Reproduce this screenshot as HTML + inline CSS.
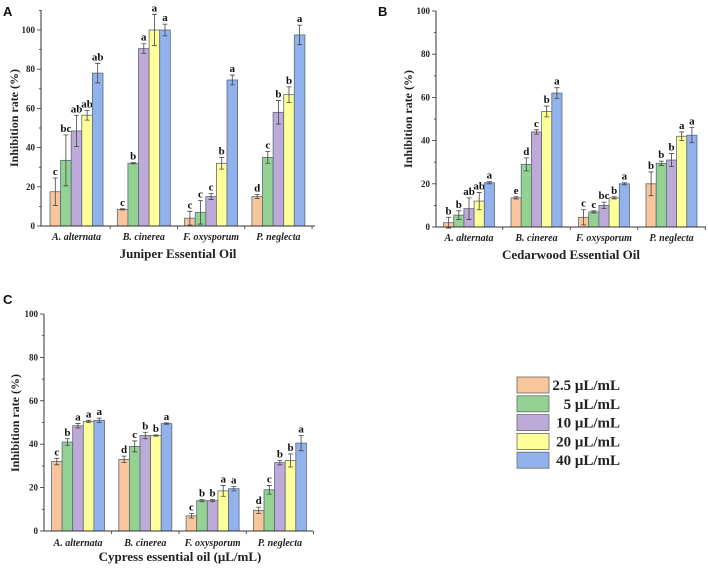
<!DOCTYPE html>
<html><head><meta charset="utf-8">
<style>
html,body{margin:0;padding:0;background:#fff;}
svg{display:block;font-family:"Liberation Serif",serif;}
</style></head>
<body>
<svg id="chart" width="708" height="568" viewBox="0 0 708 568"></svg>
<script>
const categories = ["A. alternata","B. cinerea","F. oxysporum","P. neglecta"];
const seriesNames = ["2.5 μL/mL","5 μL/mL","10 μL/mL","20 μL/mL","40 μL/mL"];
const tickValues = [0,20,40,60,80,100];
// Panel A (Juniper)
const juniperValues = [[17.5,33.5,48.5,56.5,78],[8.5,32,90.5,100,100],[4,7,15,32,74.5],[15,35,58,67,97.5]];
const juniperErrors = [[7,13,8,2.5,5],[0.3,0.3,2.5,8,3],[3.5,6,1.5,3,2.5],[1,3,6,4,5]];
const juniperLetters = [["c","bc","ab","ab","ab"],["c","b","a","a","a"],["c","c","c","b","a"],["d","c","b","b","a"]];
// Panel B (Cedarwood)
const cedarValues = [[2,5.5,8.5,12,20.5],[13.5,29,44,53.5,62],[4.5,7,10,13.5,20],[20,29.5,31,42,42.5]];
const cedarErrors = [[2.5,2,5,4,0.5],[0.5,3,1,2.5,2.5],[3.5,0.5,1.5,0.5,0.5],[5.5,1,3,2,3.5]];
const cedarLetters = [["b","b","ab","ab","a"],["e","d","c","b","a"],["c","c","bc","b","a"],["b","b","b","a","a"]];
// Panel C (Cypress)
const cypressValues = [[32,41,48.5,50.5,51],[33,39,44,44,49.5],[7,14,14,18.5,19.5],[9.5,19,31.5,32.5,40.5]];
const cypressErrors = [[1.5,1.5,1,0.5,1],[1.5,2.5,1.5,0.3,0.3],[1,0.5,0.5,2.5,1],[1.5,2,1,3,3.5]];
const cypressLetters = [["c","b","a","a","a"],["d","c","b","b","a"],["c","b","b","a","a"],["d","c","b","b","a"]];

const colors = ["#f9c59b","#93d293","#bdaad8","#ffff9a","#92b2ee"];
const NS = "http://www.w3.org/2000/svg";
const svg = document.getElementById('chart');
function mk(tag, attrs, parent, text){
  const e = document.createElementNS(NS, tag);
  for (const k in attrs) e.setAttribute(k, attrs[k]);
  if (text !== undefined) e.textContent = text;
  (parent||svg).appendChild(e);
  return e;
}
function panel(cfg, values, errors, letters){
  const g = mk('g', {});
  
  
  const y = v => cfg.y0 - v * cfg.k;
  const xc = (i) => cfg.x0 + cfg.g0 + i * cfg.gs;
  const bw = cfg.bw;
  values.forEach((grp, i) => {
    grp.forEach((v, j) => {
      const bx = xc(i) + (j - 2.5) * bw;
      const r = mk('rect', {x: bx, y: y(v), width: bw, height: v * cfg.k, fill: colors[j], stroke: '#5a6a7a', 'stroke-width': 0.8}, g);
      
      
      const e = errors[i][j], cx = bx + bw/2;
      const eb = mk('path', {d: `M${cx},${y(v+e)}V${y(v-e)}M${cx-2.5},${y(v+e)}H${cx+2.5}M${cx-2.5},${y(v-e)}H${cx+2.5}`, stroke: '#444', 'stroke-width': 0.8, fill: 'none'}, g);
      
      
      const t = mk('text', {x: cx, y: y(v+e) - 3, 'text-anchor': 'middle', 'font-size': 11, 'font-weight': 'bold', fill: '#111'}, g, letters[i][j]);
      
      
    });
    const cl = mk('text', {x: xc(i), y: cfg.catY, 'text-anchor': 'middle', 'font-size': 10, 'font-weight': 'bold', 'font-style': 'italic', fill: '#222'}, g, categories[i]);
    
    
    mk('line', {x1: xc(i) + cfg.gs/2, x2: xc(i) + cfg.gs/2, y1: cfg.y0, y2: cfg.y0 + 3, stroke: '#333', 'stroke-width': 0.8}, g);
  });
  const ax = mk('path', {d: `M${cfg.x0},${cfg.yTop}V${cfg.y0}H${cfg.xEnd}`, stroke: '#333', 'stroke-width': 1, fill: 'none'}, g);
  
  
  tickValues.forEach(tv => {
    mk('line', {x1: cfg.x0 - 4, x2: cfg.x0, y1: y(tv), y2: y(tv), stroke: '#333', 'stroke-width': 0.8}, g);
    if (y(tv + 10) >= cfg.yTop) mk('line', {x1: cfg.x0 - 2, x2: cfg.x0, y1: y(tv + 10), y2: y(tv + 10), stroke: '#333', 'stroke-width': 0.8}, g);
    const tl = mk('text', {x: cfg.x0 - 6, y: y(tv) + 3, 'text-anchor': 'end', 'font-size': 9, 'font-weight': 'bold', fill: '#222'}, g, String(tv));
    
    
  });
  const yt = mk('text', {x: 0, y: 0, transform: `translate(${cfg.yTitleX},${cfg.yTitleY}) rotate(-90)`, 'text-anchor': 'middle', 'font-size': 12, 'font-weight': 'bold', fill: '#222'}, g, 'Inhibition rate (%)');
  
  
  const xt = mk('text', {x: cfg.xTitleX, y: cfg.xTitleY, 'text-anchor': 'middle', 'font-size': 13, 'font-weight': 'bold', fill: '#222'}, g, cfg.xTitle);
  
  
  const pl = mk('text', {x: cfg.lx, y: cfg.ly, 'font-size': 13, 'font-weight': 'bold', 'font-family': '"Liberation Sans",sans-serif', fill: '#111'}, g, cfg.letter);
  
  
}
panel({name:'panel-a-juniper', x0:41, y0:226, k:1.96, yTop:10, xEnd:315, g0:35.5, gs:67.3, bw:10.6, catY:240, yTitleX:18, yTitleY:118, xTitleX:178, xTitleY:258, xTitle:'Juniper Essential Oil', letter:'A', lx:3, ly:16}, juniperValues, juniperErrors, juniperLetters);
panel({name:'panel-b-cedarwood', x0:436, y0:227, k:2.16, yTop:11, xEnd:706, g0:33, gs:67.5, bw:10.2, catY:241, yTitleX:412, yTitleY:119, xTitleX:571, xTitleY:259, xTitle:'Cedarwood Essential Oil', letter:'B', lx:378, ly:16}, cedarValues, cedarErrors, cedarLetters);
panel({name:'panel-c-cypress', x0:44, y0:531, k:2.17, yTop:314, xEnd:313, g0:34, gs:67.3, bw:10.6, catY:546, yTitleX:19, yTitleY:423, xTitleX:180, xTitleY:561, xTitle:'Cypress essential oil (μL/mL)', letter:'C', lx:3, ly:304}, cypressValues, cypressErrors, cypressLetters);
const lg = mk('g', {});


seriesNames.forEach((s, j) => {
  const yy = 377 + j * 18.8;
  const r = mk('rect', {x: 517, y: yy, width: 32, height: 16, fill: colors[j], stroke: '#666', 'stroke-width': 0.8}, lg);
  
  
  const t = mk('text', {x: 620, y: yy + 13, 'text-anchor': 'end', 'font-size': 15, 'font-weight': 'bold', fill: '#222'}, lg, s);
  
  
});
</script>
</body></html>
